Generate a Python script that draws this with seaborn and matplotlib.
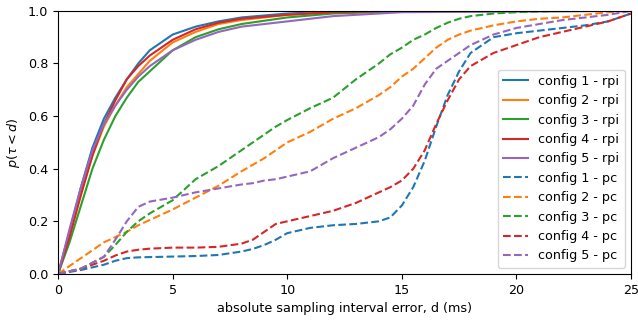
import numpy as np
import pandas as pd
import seaborn as sns
import matplotlib
matplotlib.use("Agg")
import matplotlib.pyplot as plt

d_rpi = [0, 0.5, 1, 1.5, 2, 2.5, 3, 3.5, 4, 5, 6, 7, 8, 10, 12, 15, 25]
p_rpi_1 = [0, 0.16, 0.33, 0.48, 0.59, 0.67, 0.74, 0.80, 0.85, 0.91, 0.94, 0.96, 0.975, 0.99, 0.998, 1.0, 1.0]
p_rpi_2 = [0, 0.15, 0.31, 0.45, 0.56, 0.64, 0.71, 0.76, 0.81, 0.88, 0.92, 0.95, 0.965, 0.985, 0.995, 1.0, 1.0]
p_rpi_3 = [0, 0.12, 0.26, 0.40, 0.51, 0.60, 0.67, 0.73, 0.77, 0.85, 0.90, 0.93, 0.95, 0.975, 0.99, 0.998, 1.0]
p_rpi_4 = [0, 0.14, 0.30, 0.45, 0.57, 0.66, 0.74, 0.79, 0.83, 0.89, 0.93, 0.955, 0.97, 0.985, 0.995, 1.0, 1.0]
p_rpi_5 = [0, 0.17, 0.33, 0.47, 0.57, 0.64, 0.70, 0.75, 0.79, 0.85, 0.89, 0.92, 0.94, 0.96, 0.98, 0.995, 1.0]

d_pc = [0, 1, 2, 2.5, 3, 3.5, 4, 5, 6, 7, 8, 8.5, 9, 9.5, 10, 11, 12, 13, 14, 14.5, 15, 15.5, 16, 16.5, 17, 17.5, 18, 19, 20, 21, 22, 23, 24, 25]
p_pc_1 = [0, 0.015, 0.035, 0.05, 0.06, 0.063, 0.064, 0.066, 0.068, 0.072, 0.085, 0.095, 0.11, 0.13, 0.155, 0.175, 0.185, 0.19, 0.2, 0.215, 0.26, 0.33, 0.43, 0.56, 0.68, 0.77, 0.84, 0.90, 0.915, 0.925, 0.935, 0.945, 0.96, 0.99]
p_pc_2 = [0, 0.06, 0.12, 0.14, 0.16, 0.185, 0.205, 0.245, 0.29, 0.335, 0.39, 0.415, 0.44, 0.47, 0.50, 0.54, 0.59, 0.63, 0.68, 0.71, 0.75, 0.78, 0.82, 0.86, 0.89, 0.91, 0.925, 0.945, 0.96, 0.97, 0.975, 0.985, 0.995, 1.0]
p_pc_3 = [0, 0.02, 0.065, 0.11, 0.16, 0.2, 0.23, 0.28, 0.36, 0.41, 0.47, 0.50, 0.53, 0.56, 0.585, 0.63, 0.67, 0.74, 0.80, 0.835, 0.86, 0.89, 0.91, 0.935, 0.955, 0.97, 0.98, 0.99, 0.995, 0.998, 1.0, 1.0, 1.0, 1.0]
p_pc_4 = [0, 0.02, 0.05, 0.07, 0.085, 0.092, 0.096, 0.10, 0.10, 0.103, 0.115, 0.13, 0.16, 0.19, 0.20, 0.22, 0.24, 0.27, 0.31, 0.33, 0.355, 0.40, 0.47, 0.57, 0.66, 0.74, 0.79, 0.84, 0.87, 0.90, 0.92, 0.94, 0.96, 0.99]
p_pc_5 = [0, 0.02, 0.065, 0.13, 0.2, 0.255, 0.275, 0.29, 0.31, 0.325, 0.34, 0.345, 0.355, 0.36, 0.37, 0.39, 0.44, 0.48, 0.52, 0.55, 0.59, 0.64, 0.72, 0.78, 0.81, 0.84, 0.87, 0.91, 0.935, 0.95, 0.965, 0.975, 0.985, 1.0]

labels_rpi = ["config 1 - rpi", "config 2 - rpi", "config 3 - rpi", "config 4 - rpi", "config 5 - rpi"]
labels_pc = ["config 1 - pc", "config 2 - pc", "config 3 - pc", "config 4 - pc", "config 5 - pc"]

rows = []
for lab, p in zip(labels_rpi, [p_rpi_1, p_rpi_2, p_rpi_3, p_rpi_4, p_rpi_5]):
    rows.append(pd.DataFrame({"d": d_rpi, "p": p, "series": lab}))
for lab, p in zip(labels_pc, [p_pc_1, p_pc_2, p_pc_3, p_pc_4, p_pc_5]):
    rows.append(pd.DataFrame({"d": d_pc, "p": p, "series": lab}))
df = pd.concat(rows, ignore_index=True)

plt.rcParams["font.size"] = 9.2

colors = sns.color_palette("tab10", 5)
palette = {lab: colors[i] for i, lab in enumerate(labels_rpi)}
palette.update({lab: colors[i] for i, lab in enumerate(labels_pc)})
dashes = {lab: "" for lab in labels_rpi}
dashes.update({lab: (3.7, 1.6) for lab in labels_pc})

fig, ax = plt.subplots(figsize=(6.38, 3.2), dpi=100)
sns.lineplot(data=df, x="d", y="p", hue="series", style="series",
             hue_order=labels_rpi + labels_pc, style_order=labels_rpi + labels_pc,
             palette=palette, dashes=dashes, linewidth=1.5, ax=ax)

ax.set_xlim(0, 25)
ax.set_ylim(0, 1.0)
ax.set_xlabel("absolute sampling interval error, d (ms)")
ax.set_ylabel(r"$p(\tau < d)$")
ax.legend(loc="lower right")

fig.subplots_adjust(left=0.091, right=0.989, top=0.966, bottom=0.144)
fig.savefig("out.png", dpi=100)
